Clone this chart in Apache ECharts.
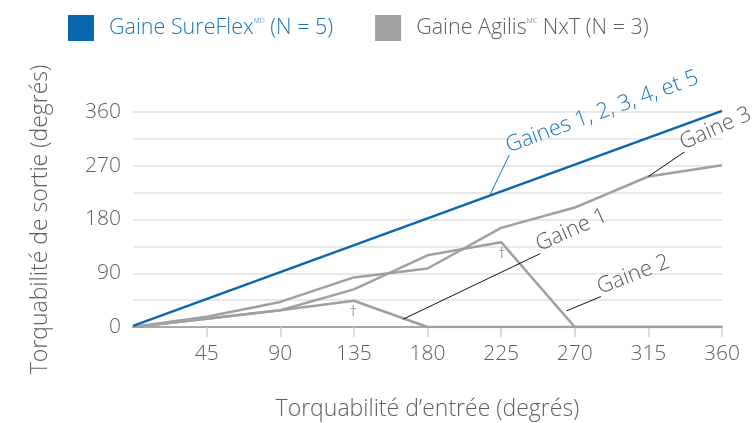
<!DOCTYPE html>
<html>
<head>
<meta charset="utf-8">
<script src="https://cdn.jsdelivr.net/npm/echarts@6/dist/echarts.min.js"></script>
<style>
  html, body { margin: 0; padding: 0; background: #fff; }
  #chart { width: 755px; height: 423px; }
</style>
</head>
<body>
<div id="chart"></div>
<script>
const xTicks = [45, 90, 135, 180, 225, 270, 315, 360];
const yLabels = [0, 90, 180, 270, 360];
const inputDeg = [0, 45, 90, 135, 180, 225, 270, 315, 360];

const sureflex = [[0, 2], [360, 362]];
const gaine1 = [0, 14, 28, 44, 0, 0, 0, 0, 0];
const gaine2 = [0, 14, 28, 63, 120, 142, 0, 0, 0];
const gaine3 = [0, 17, 42, 83, 98, 166, 200, 252, 271];

// annotations: [anchor on curve, text start, text, rotation]
const notes = [
  { from: [218, 220], to: [230, 288], text: "Gaines 1, 2, 3, 4, et 5", rot: 20, color: "#1a75b8", line: "#1a75b8" },
  { from: [315, 252], to: [337, 293], text: "Gaine 3", rot: 24, color: "#5a5a5a", line: "#111" },
  { from: [165, 13], to: [249, 123], text: "Gaine 1", rot: 24, color: "#5a5a5a", line: "#111" },
  { from: [265, 27], to: [286, 51], text: "Gaine 2", rot: 21, color: "#5a5a5a", line: "#111" }
];
const daggers = [[134.5, 26], [225.5, 123]];

const BLUE = "#0868ae";
const GRAY = "#a0a0a2";
const TXT = "#5e5e5e";
const FONT = "Open Sans";
const W = 300;
const agilis = "Gaine Agilis NxT (N = 3)";
const sure = "Gaine SureFlex (N = 5)";

const chart = echarts.init(document.getElementById("chart"));

const pair = (arr) => arr.map((v, i) => [inputDeg[i], v]);

const option = {
  animation: false,
  textStyle: { fontFamily: FONT, fontWeight: W },
  legend: {
    left: 63,
    top: 10,
    itemWidth: 26,
    itemHeight: 26,
    itemGap: 42,
    icon: "rect",
    textStyle: {
      fontSize: 21.5,
      fontFamily: FONT,
      fontWeight: W,
      padding: [0, 0, 0, 10],
      rich: {
        sup: { fontSize: 7, fontWeight: W, verticalAlign: "top", padding: [0, 0, 12, 0] }
      }
    },
    formatter: (name) =>
      name === sure
        ? "Gaine SureFlex{sup|MD} (N = 5)"
        : "Gaine Agilis{sup|MC} NxT (N = 3)",
    data: [
      { name: sure, textStyle: { color: "#1a75b8" } },
      { name: agilis, textStyle: { color: TXT } }
    ]
  },
  grid: { left: 133, right: 33, top: 112, bottom: 96, outerBoundsMode: "none" },
  xAxis: {
    type: "value",
    min: 0,
    max: 360,
    interval: 45,
    name: "Torquabilité d’entrée (degrés)",
    nameLocation: "middle",
    nameGap: 71,
    nameTextStyle: { fontSize: 23, color: TXT, fontFamily: FONT, fontWeight: W },
    axisLine: { show: true, lineStyle: { color: "#a8a8a8", width: 2 } },
    axisTick: { show: true, length: 10, customValues: xTicks, lineStyle: { color: "#cfcfcf", width: 1.5 } },
    axisLabel: { customValues: xTicks, fontSize: 21, color: TXT, margin: 17, fontFamily: FONT, fontWeight: W },
    splitLine: { show: false }
  },
  yAxis: {
    type: "value",
    min: 0,
    max: 360,
    interval: 45,
    name: "Torquabilité de sortie (degrés)",
    nameLocation: "middle",
    nameGap: 81,
    nameTextStyle: { fontSize: 23, color: TXT, fontFamily: FONT, fontWeight: W },
    axisLine: { show: false },
    axisTick: { show: false },
    axisLabel: { customValues: yLabels, fontSize: 21, color: TXT, margin: 12, fontFamily: FONT, fontWeight: W },
    splitLine: { lineStyle: { color: "#e2e2e2", width: 1.5 } }
  },
  series: [
    { name: sure, type: "line", data: sureflex, symbol: "none", z: 5, clip: false,
      itemStyle: { color: BLUE }, lineStyle: { color: BLUE, width: 2.5 } },
    { name: agilis, type: "line", data: pair(gaine1), symbol: "none",
      itemStyle: { color: GRAY }, lineStyle: { color: GRAY, width: 2.5 } },
    { name: agilis, type: "line", data: pair(gaine2), symbol: "none",
      itemStyle: { color: GRAY }, lineStyle: { color: GRAY, width: 2.5 } },
    { name: agilis, type: "line", data: pair(gaine3), symbol: "none",
      itemStyle: { color: GRAY }, lineStyle: { color: GRAY, width: 2.5 } }
  ]
};

chart.setOption(option);

const px = (p) => chart.convertToPixel({ gridIndex: 0 }, p);
const graphics = [];
notes.forEach((n) => {
  const a = px(n.from), b = px(n.to);
  graphics.push({
    type: "line", z: 10,
    shape: { x1: a[0], y1: a[1], x2: b[0], y2: b[1] },
    style: { stroke: n.line, lineWidth: 1 }
  });
  graphics.push({
    type: "text", z: 10,
    x: b[0] + 1, y: b[1] + 2,
    rotation: (n.rot * Math.PI) / 180,
    style: { text: n.text, fill: n.color, font: W + " 22px '" + FONT + "'", textAlign: "left", textVerticalAlign: "bottom" }
  });
});
daggers.forEach((d) => {
  const p = px(d);
  graphics.push({
    type: "text", z: 10, x: p[0], y: p[1],
    style: { text: "†", fill: TXT, font: W + " 15px '" + FONT + "'", textAlign: "center", textVerticalAlign: "middle" }
  });
});
chart.setOption({ graphic: graphics });
</script>
</body>
</html>
